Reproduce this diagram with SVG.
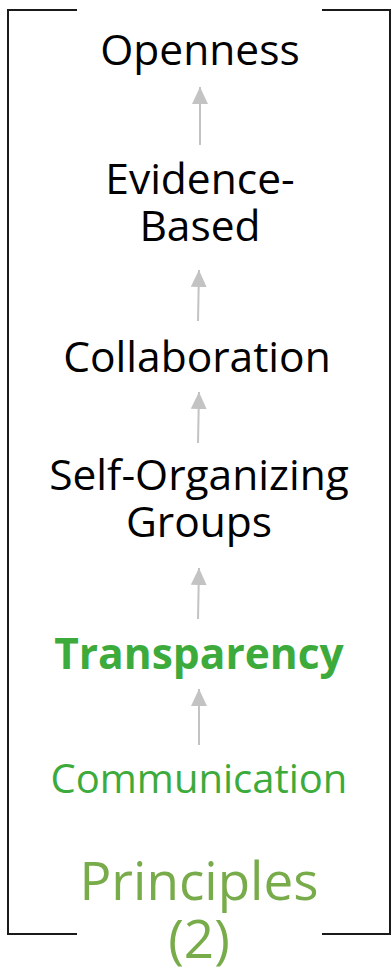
<svg xmlns="http://www.w3.org/2000/svg" width="392" height="971" viewBox="0 0 392 971">
<style>
text{font-family:"Open Sans","Noto Sans","Liberation Sans",sans-serif;text-anchor:middle}
.n{font-size:42.5px;fill:#000}
.g{font-size:40px;fill:#3daa3c}
.b{font-weight:bold;font-size:42.5px}
.p{font-size:53px;fill:#78ab4a}
.br{fill:none;stroke:#1a1a1a;stroke-width:2}
.c{stroke:#c3c3c3;stroke-width:2;fill:none;marker-end:url(#ah)}
</style>
<defs>
<marker id="ah" markerUnits="userSpaceOnUse" markerWidth="17" markerHeight="16" refX="17" refY="8" orient="auto" viewBox="0 0 17 16">
<path d="M0,0 L17,8 L0,16 Z" fill="#c3c3c3"/>
</marker>
</defs>
<g id="bracket">
<path class="br" d="M77,10 H8 V934 H77"/>
<path class="br" d="M322,10 H390 V934 H322"/>
</g>
<g id="connectors">
<path class="c" d="M200,145 L200,87"/>
<path class="c" d="M198,321 L199,270"/>
<path class="c" d="M198,443 L199,392"/>
<path class="c" d="M198,619 L199,568"/>
<path class="c" d="M199,745 L199,689"/>
</g>
<g id="openness"><text class="n" x="200" y="65">Openness</text></g>
<g id="evidence"><text class="n" x="200" y="194">Evidence-</text><text class="n" x="200" y="241">Based</text></g>
<g id="collaboration"><text class="n" x="197" y="372">Collaboration</text></g>
<g id="selforg"><text class="n" x="199" y="490">Self-Organizing</text><text class="n" x="199" y="537">Groups</text></g>
<g id="transparency"><text class="g b" x="199" y="669">Transparency</text></g>
<g id="communication"><text class="g" x="199" y="793">Communication</text></g>
<g id="principles"><text class="p" x="199" y="900">Principles</text><text class="p" x="199" y="958">(2)</text></g>
</svg>
